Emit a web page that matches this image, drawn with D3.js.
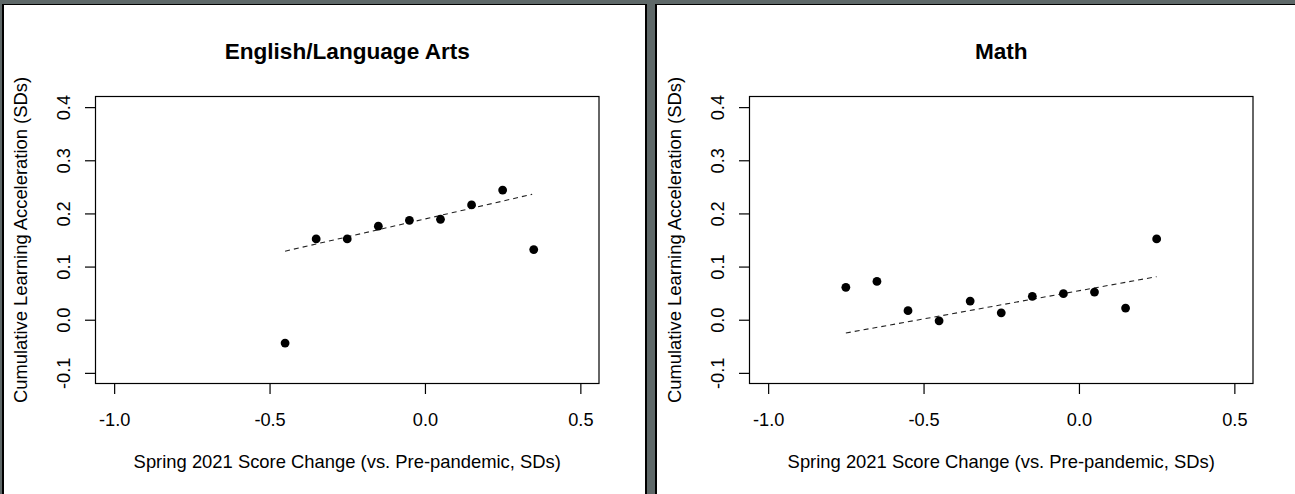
<!DOCTYPE html>
<html>
<head>
<meta charset="utf-8">
<script src="https://cdn.jsdelivr.net/npm/d3@7"></script>
<style>
  html, body { margin: 0; padding: 0; background: #5e6868; }
  svg { display: block; }
  text { font-family: "Liberation Sans", Arial, sans-serif; fill: #000; }
</style>
</head>
<body>
<svg id="chart" width="1295" height="494"></svg>
<script>
// Score change bins (x) and cumulative learning acceleration (y)
const elaX = [-0.45, -0.35, -0.25, -0.15, -0.05, 0.05, 0.15, 0.25, 0.35];
const elaY = [-0.044, 0.152, 0.152, 0.176, 0.187, 0.189, 0.216, 0.244, 0.132];
const elaTrendX = [-0.45, 0.345];
const elaTrendY = [0.129, 0.236];

const mathX = [-0.75, -0.65, -0.55, -0.45, -0.35, -0.25, -0.15, -0.05, 0.05, 0.15, 0.25];
const mathY = [0.061, 0.072, 0.017, -0.002, 0.035, 0.013, 0.044, 0.049, 0.052, 0.022, 0.152];
const mathTrendX = [-0.75, 0.25];
const mathTrendY = [-0.025, 0.081];

const xTicks = [-1.0, -0.5, 0.0, 0.5];
const yTicks = [-0.1, 0.0, 0.1, 0.2, 0.3, 0.4];
const xDomain = [-1.06, 0.56];
const yDomain = [-0.12, 0.42];

const panelTitles = ["English/Language Arts", "Math"];
const xAxisTitle = "Spring 2021 Score Change (vs. Pre-pandemic, SDs)";
const yAxisTitle = "Cumulative Learning Acceleration (SDs)";

const svg = d3.select("#chart");

// Window-style panel frames
const frames = [
  { left: 2, right: 647, shadowRight: true },
  { left: 655, right: 1297, shadowRight: false }
];

const panels = [
  { title: panelTitles[0], xs: elaX, ys: elaY, tx: elaTrendX, ty: elaTrendY, offset: 0 },
  { title: panelTitles[1], xs: mathX, ys: mathY, tx: mathTrendX, ty: mathTrendY, offset: 654 }
];

frames.forEach(f => {
  svg.append("rect").attr("x", f.left).attr("y", 4)
    .attr("width", f.right - f.left).attr("height", 494 - 4).attr("fill", "#000");
  svg.append("rect").attr("x", f.left + 2).attr("y", 5)
    .attr("width", f.right - f.left - (f.shadowRight ? 4 : 2)).attr("height", 494 - 5).attr("fill", "#fff");
});

const box = { left: 95.5, right: 599, top: 96.5, bottom: 383.5 };
const tickLen = 10.5;
const fmt = d => d3.format(".1f")(d).replace("−", "-");

panels.forEach(p => {
  const g = svg.append("g").attr("transform", `translate(${p.offset},0)`);
  const x = d3.scaleLinear().domain(xDomain).range([box.left, box.right]);
  const y = d3.scaleLinear().domain(yDomain).range([box.bottom, box.top]);

  // Plot box
  g.append("rect")
    .attr("x", box.left).attr("y", box.top)
    .attr("width", box.right - box.left).attr("height", box.bottom - box.top)
    .attr("fill", "none").attr("stroke", "#000").attr("stroke-width", 1.2);

  // X axis
  const xa = g.append("g").attr("transform", `translate(0,${box.bottom})`)
    .call(d3.axisBottom(x).tickValues(xTicks).tickSize(tickLen).tickPadding(0).tickSizeOuter(0));
  xa.select(".domain").remove();
  xa.selectAll(".tick line").attr("stroke", "#000").attr("stroke-width", 1.2);
  xa.selectAll(".tick text").attr("y", 42).attr("dy", null)
    .style("font-size", "18.2px").attr("font-family", null).attr("fill", "#000")
    .text(fmt);

  // Y axis, labels parallel to the axis
  const ya = g.append("g").attr("transform", `translate(${box.left},0)`)
    .call(d3.axisLeft(y).tickValues(yTicks).tickSize(tickLen).tickSizeOuter(0));
  ya.select(".domain").remove();
  ya.selectAll(".tick line").attr("stroke", "#000").attr("stroke-width", 1.2);
  ya.selectAll(".tick text")
    .attr("x", null).attr("dy", null).attr("y", null)
    .attr("text-anchor", "middle")
    .attr("transform", `translate(${70 - box.left},0) rotate(-90)`)
    .style("font-size", "18.2px").attr("font-family", null).attr("fill", "#000")
    .text(fmt);

  // Trend line
  g.append("path")
    .datum(d3.zip(p.tx, p.ty))
    .attr("d", d3.line().x(d => x(d[0])).y(d => y(d[1])))
    .attr("fill", "none").attr("stroke", "#222").attr("stroke-width", 1.1)
    .attr("stroke-dasharray", "5,4");

  // Points
  g.selectAll("circle.pt").data(d3.zip(p.xs, p.ys)).join("circle")
    .attr("class", "pt")
    .attr("cx", d => x(d[0])).attr("cy", d => y(d[1]))
    .attr("r", 4.4).attr("fill", "#000");

  // Titles
  g.append("text").attr("x", (box.left + box.right) / 2).attr("y", 59)
    .attr("text-anchor", "middle").style("font-size", "22.6px").style("font-weight", "bold")
    .text(p.title);
  g.append("text").attr("x", (box.left + box.right) / 2).attr("y", 468)
    .attr("text-anchor", "middle").style("font-size", "18.4px")
    .text(xAxisTitle);
  g.append("text")
    .attr("transform", `translate(26.5,${(box.top + box.bottom) / 2}) rotate(-90)`)
    .attr("text-anchor", "middle").style("font-size", "18.4px")
    .text(yAxisTitle);
});
</script>
</body>
</html>
